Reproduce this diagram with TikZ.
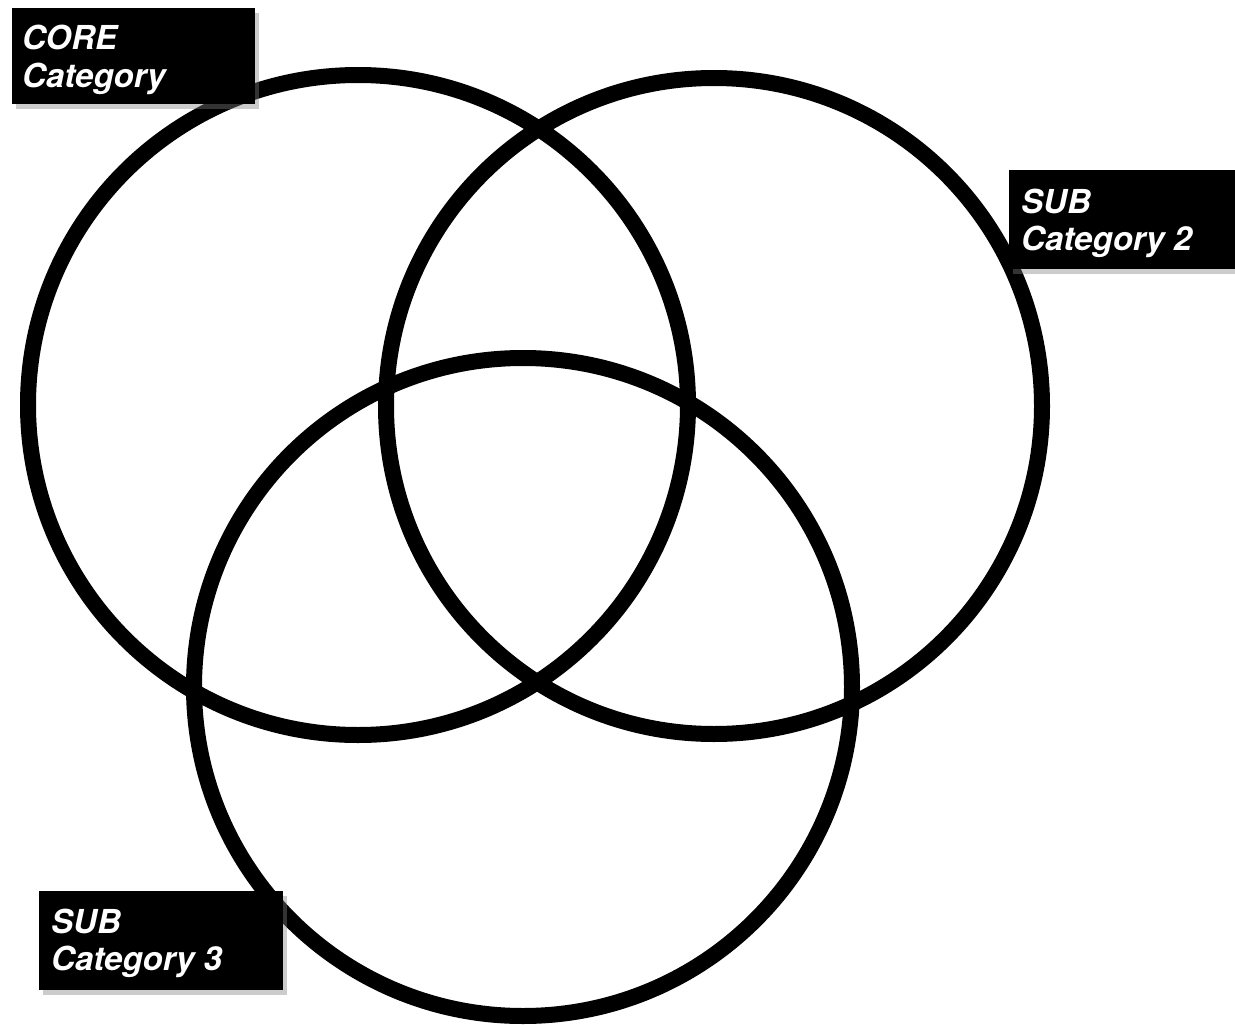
\documentclass[tikz,border=0pt]{standalone}
\usepackage{fontspec}
\setmainfont{TeX Gyre Heros}
\usetikzlibrary{shadows}
\begin{document}
\begin{tikzpicture}[x=1pt,y=-1pt,
  ring/.style={draw=black,line width=16pt},
  labelbox/.style={rectangle,fill=black,inner sep=0pt,anchor=north west,
    drop shadow={opacity=0.4,shadow xshift=4pt,shadow yshift=-5pt}},
  labeltext/.style={text=white,inner sep=0pt,anchor=base west,
    font=\fontsize{33}{37}\selectfont\bfseries\itshape}]
\useasboundingbox (0,0) rectangle (1235,1025);
\fill[white] (0,0) rectangle (1235,1025);
% circles
\draw[ring] (358,405) circle[radius=330];
\draw[ring] (714,406) circle[radius=328];
\draw[ring] (523,687) circle[radius=329];
% labels
\node[labelbox,minimum width=243pt,minimum height=96pt] (b1) at (12,8) {};
\node[labeltext] (t1a) at (22,50) {CORE};
\node[labeltext] (t1b) at (22,88) {Category};
\node[labelbox,minimum width=226pt,minimum height=99pt] (b2) at (1009,170) {};
\node[labeltext] (t2a) at (1021,213) {SUB};
\node[labeltext] (t2b) at (1021,250) {Category 2};
\node[labelbox,minimum width=244pt,minimum height=99pt] (b3) at (39,891) {};
\node[labeltext] (t3a) at (51,933) {SUB};
\node[labeltext] (t3b) at (51,970) {Category 3};
\end{tikzpicture}
\end{document}
